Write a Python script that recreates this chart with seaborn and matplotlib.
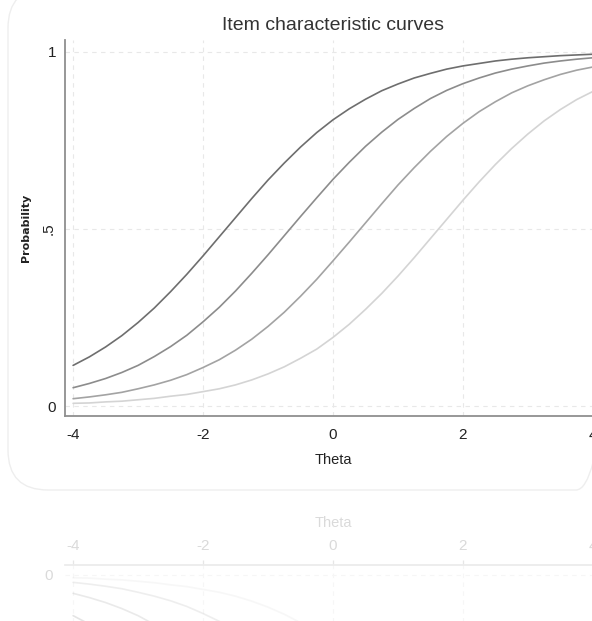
import numpy as np
import pandas as pd
import matplotlib
matplotlib.use("Agg")
import matplotlib.pyplot as plt
import seaborn as sns
from matplotlib.patches import FancyBboxPatch

# ------------------------------------------
# Data
# ------------------------------------------
theta = [-4.0, -3.75, -3.5, -3.25, -3.0, -2.75, -2.5, -2.25, -2.0,
         -1.75, -1.5, -1.25, -1.0, -0.75, -0.5, -0.25, 0.0,
         0.25, 0.5, 0.75, 1.0, 1.25, 1.5, 1.75, 2.0,
         2.25, 2.5, 2.75, 3.0, 3.25, 3.5, 3.75, 4.0]

item1 = [0.115, 0.139, 0.167, 0.199, 0.236, 0.277, 0.323, 0.372, 0.424,
         0.478, 0.532, 0.586, 0.638, 0.686, 0.731, 0.772, 0.808,
         0.839, 0.866, 0.890, 0.909, 0.926, 0.939, 0.951, 0.960,
         0.967, 0.974, 0.979, 0.983, 0.986, 0.989, 0.991, 0.993]
item2 = [0.052, 0.064, 0.078, 0.095, 0.115, 0.140, 0.168, 0.200, 0.238,
         0.279, 0.325, 0.375, 0.427, 0.481, 0.535, 0.588, 0.640,
         0.688, 0.733, 0.773, 0.809, 0.840, 0.868, 0.891, 0.910,
         0.926, 0.940, 0.951, 0.960, 0.968, 0.974, 0.979, 0.983]
item3 = [0.021, 0.026, 0.032, 0.039, 0.049, 0.060, 0.073, 0.089, 0.109,
         0.131, 0.158, 0.189, 0.225, 0.265, 0.310, 0.358, 0.410,
         0.463, 0.517, 0.571, 0.624, 0.673, 0.719, 0.761, 0.798,
         0.831, 0.859, 0.884, 0.904, 0.921, 0.936, 0.948, 0.957]
item4 = [0.008, 0.009, 0.012, 0.014, 0.018, 0.022, 0.028, 0.033, 0.041,
         0.049, 0.060, 0.074, 0.091, 0.111, 0.135, 0.161, 0.194,
         0.231, 0.273, 0.318, 0.367, 0.419, 0.473, 0.527, 0.581,
         0.633, 0.682, 0.727, 0.768, 0.805, 0.837, 0.865, 0.888]

items = ["item1", "item2", "item3", "item4"]
colors = ["#6e6e6e", "#8c8c8c", "#a3a3a3", "#d4d4d4"]

xticks = [-4, -2, 0, 2, 4]
xtick_labels = ["-4", "-2", "0", "2", "4"]
yticks = [0, 0.5, 1]
ytick_labels = ["0", ".5", "1"]

df = pd.DataFrame({
    "Theta": theta * 4,
    "Probability": item1 + item2 + item3 + item4,
    "item": [name for name in items for _ in theta],
})

# ------------------------------------------
# Style
# ------------------------------------------
sns.set_theme(style="white")
plt.rcParams["font.family"] = ["Liberation Sans", "DejaVu Sans"]

fig = plt.figure(figsize=(5.92, 6.21), dpi=100)

# faint rounded card behind the chart (pixel units, y downwards)
bg = fig.add_axes([0, 0, 1, 1], zorder=-1)
bg.set_xlim(0, 592)
bg.set_ylim(621, 0)
bg.axis("off")
bg.patch.set_alpha(0)
bg.add_patch(FancyBboxPatch((8, -12), 608, 502,
                            boxstyle="round,pad=0,rounding_size=40",
                            facecolor="none", edgecolor="#eeeeee",
                            linewidth=1.0))

xlim = (-4.123, 4.123)
ylim = (-0.028, 1.033)


def style_axis(ax, spine_col, tick_col, label_col, grid_col, top=False):
    ax.set_xlim(*xlim)
    ax.set_xticks(xticks)
    ax.set_yticks(yticks)
    for s in ax.spines.values():
        s.set_visible(False)
    if top:
        ax.spines["top"].set_visible(True)
        ax.spines["top"].set_color(spine_col)
        ax.spines["top"].set_linewidth(1.3)
        ax.xaxis.tick_top()
    else:
        ax.spines["left"].set_visible(True)
        ax.spines["bottom"].set_visible(True)
        ax.spines["left"].set_color(spine_col)
        ax.spines["bottom"].set_color(spine_col)
        ax.spines["left"].set_linewidth(1.3)
        ax.spines["bottom"].set_linewidth(1.3)
    ax.tick_params(axis="both", length=3.5, width=0.9, color=tick_col,
                   labelcolor=label_col, labelsize=11, pad=5)
    ax.grid(True, color=grid_col, linestyle=(0, (4, 4)), linewidth=0.8)
    ax.set_axisbelow(True)


# ------------------------------------------
# Main chart
# ------------------------------------------
ax = fig.add_axes([0.110, 0.330, 0.905, 0.6055])
ax.patch.set_alpha(0)
sns.lineplot(data=df, x="Theta", y="Probability", hue="item",
             palette=colors, linewidth=1.2, legend=False, ax=ax)
ax.set_ylim(*ylim)
style_axis(ax, "#8f8f8f", "#8f8f8f", "#222222", "#e8e8e8")
ax.set_xticklabels(xtick_labels)
ax.set_yticklabels(ytick_labels)
for lab, t in zip(ax.get_yticklabels(), ytick_labels):
    if t == ".5":
        lab.set_rotation(90)
        lab.set_va("center")
ax.tick_params(axis="y", pad=3)

ax.set_title("Item characteristic curves", fontsize=14, color="#333333", pad=7)
ax.set_xlabel("Theta", fontsize=10.5, color="#222222")
ax.xaxis.set_label_coords(0.5, -0.098)
ax.set_ylabel("Probability", fontsize=8, fontweight="bold",
              family=["DejaVu Sans"], color="#222222")
ax.yaxis.set_label_coords(-0.063, 0.5)

# ------------------------------------------
# Faded reflection below the card
# ------------------------------------------
ax2 = fig.add_axes([0.110, -0.5153, 0.905, 0.6055])
ax2.patch.set_alpha(0)
sns.lineplot(data=df, x="Theta", y="Probability", hue="item",
             palette=colors, linewidth=1.2, legend=False, ax=ax2, alpha=0.18)
ax2.set_ylim(ylim[1], ylim[0])
style_axis(ax2, "#ececec", "#e6e6e6", "#dadada", "#f6f6f6", top=True)
ax2.set_xticklabels(xtick_labels)
ax2.set_yticklabels(ytick_labels)
ax2.set_xlabel("")
ax2.set_ylabel("")
ax2.text(0.5, 1.112, "Theta", transform=ax2.transAxes, ha="center",
         va="center", fontsize=10.5, color="#dadada")

fig.savefig("out.png", dpi=100)
